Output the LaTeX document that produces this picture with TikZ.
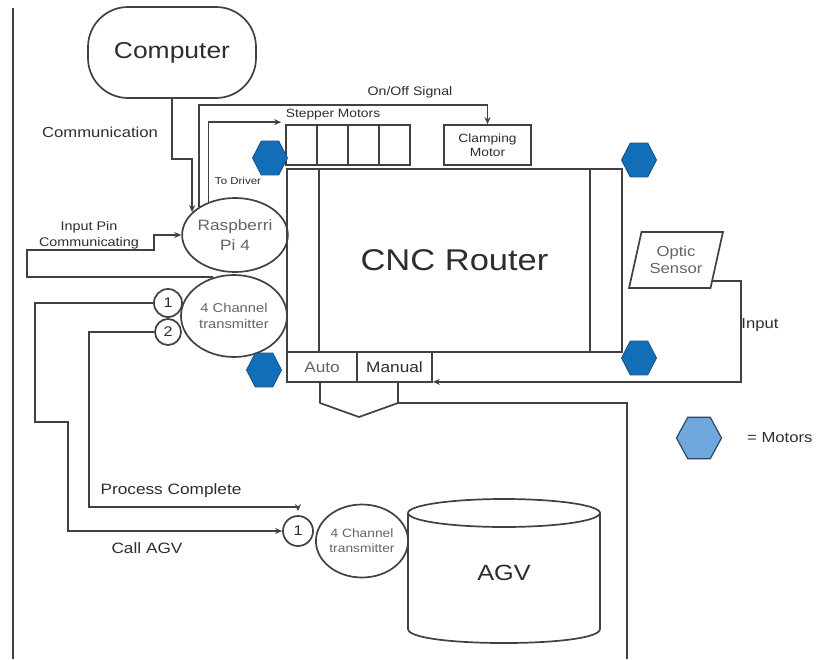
\documentclass[tikz,border=0pt]{standalone}
\usepackage{fontspec}
\setmainfont[FakeStretch=1.15]{Liberation Sans}
\usetikzlibrary{shapes.geometric,arrows.meta,calc}

\definecolor{ln}{RGB}{65,65,65}
\definecolor{tx}{RGB}{45,45,45}
\definecolor{txl}{RGB}{100,100,100}
\definecolor{hexblue}{RGB}{18,110,182}
\definecolor{hexedge}{RGB}{22,80,135}
\definecolor{legblue}{RGB}{112,168,222}
\definecolor{legedge}{RGB}{45,70,100}

\newcommand\fsz[2]{\fontsize{#1}{#2}\selectfont}

\tikzset{
  wire/.style={draw=ln, line width=1.7pt},
  arr/.style={wire, -{Stealth[length=7pt,width=6pt]}},
  box/.style={draw=ln, line width=1.7pt, rectangle, inner sep=0, text=tx, align=center},
  oval/.style={draw=ln, line width=1.7pt, ellipse, inner sep=0, align=center},
  port/.style={draw=ln, line width=1.7pt, circle, inner sep=0, text=tx},
  motor/.style={regular polygon, regular polygon sides=6, minimum size=35, inner sep=0,
                yscale=1.12, fill=hexblue, draw=hexedge, line width=0.8pt},
  lbl/.style={text=tx, inner sep=0, align=center}
}

\begin{document}
\begin{tikzpicture}[x=1pt, y=-1pt]
\useasboundingbox (0,0) rectangle (817,659);

% frame line on the left
\coordinate (ba) at (13,8);
\coordinate (bb) at (13,659);
\draw[wire] (ba) -- (bb);

% computer
\node[box, rounded corners=40pt, minimum width=168, minimum height=91, font=\fsz{23}{27}] (comp) at (172,52.5) {Computer};

% stepper motors and clamping motor
\foreach \i/\x in {1/301.5, 2/332.5, 3/363.5, 4/394.5}
  \node[box, minimum width=31, minimum height=40] (st\i) at (\x,145) {};
\node[box, minimum width=87, minimum height=40, font=\fsz{12}{14}] (clamp) at (487.5,145) {Clamping\\Motor};

% router body
\node[box, minimum width=335, minimum height=183, font=\fsz{30}{34}] (cnc) at (454.5,260.5) {CNC Router};
\draw[wire] ([xshift=33pt]cnc.north west) -- ([xshift=33pt]cnc.south west);
\draw[wire] ([xshift=-33pt]cnc.north east) -- ([xshift=-33pt]cnc.south east);

% mode switches and hopper
\node[box, minimum width=70, minimum height=30, font=\fsz{15}{17}, text=txl] (auto) at (322,367) {Auto};
\node[box, minimum width=75, minimum height=30, font=\fsz{15}{17}] (manual) at (394.5,367) {Manual};
\draw[wire, line join=round] (320,382) -- (320,403) -- (359,417) -- (398,403) -- (398,382);
\coordinate (hop) at (398,403);
\coordinate (tail) at (627,659);
\draw[wire] (hop) -| (tail);

% controller side
\node[oval, minimum width=104, minimum height=74, font=\fsz{15}{20}, text=txl] (pi) at (235,235) {Raspberri\\Pi 4};
\node[oval, minimum width=106, minimum height=82, font=\fsz{12.8}{16}, text=txl] (tx) at (234,316) {4 Channel\\transmitter};
\node[port, minimum size=28, font=\fsz{14}{16}] (c1) at (168,303) {1};
\node[port, minimum size=26, font=\fsz{14}{16}] (c2) at (168,332) {2};

% AGV side
\node[oval, minimum width=91, minimum height=73, font=\fsz{12}{15}, text=txl] (btx) at (362,541) {4 Channel\\transmitter};
\node[port, minimum size=30, font=\fsz{14}{16}] (bc1) at (298,531) {1};
\draw[wire] (504,513) ellipse [x radius=96pt, y radius=14pt];
\draw[wire] (408,513) -- (408,629) .. controls (408,647.7) and (600,647.7) .. (600,629) -- (600,513);
\node[lbl, font=\fsz{22}{26}] (agv) at (504,573) {AGV};

% optic sensor
\node[trapezium, trapezium left angle=71, trapezium right angle=109, trapezium stretches=true,
      draw=ln, line width=1.7pt, minimum width=94, minimum height=56, inner sep=0,
      font=\fsz{14.5}{17}, text=txl, align=center] (opt) at (676,260) {Optic\\Sensor};

% motors
\node[motor] (m1) at (270,158) {};
\node[motor] (m2) at (639,160) {};
\node[motor] (m3) at (264,370) {};
\node[motor] (m4) at (639,358) {};
\node[motor, minimum size=45, yscale=0.95, fill=legblue, draw=legedge, line width=1.2pt] (mleg) at (699,438) {};
\node[lbl, font=\fsz{14.5}{17}, anchor=west] (legtxt) at (747,438) {= Motors};

% labels
\node[lbl, font=\fsz{14.5}{17}] (lcomm) at (100,132) {Communication};
\node[lbl, font=\fsz{12.3}{14}] (lonoff) at (410,92) {On/Off Signal};
\node[lbl, font=\fsz{12}{14}] (lstep) at (333,115) {Stepper Motors};
\node[lbl, font=\fsz{10}{12}] (ldrv) at (238,181) {To Driver};
\node[lbl, font=\fsz{12.5}{16}] (lpin) at (89,235) {Input Pin\\Communicating};
\node[lbl, font=\fsz{14.5}{17}] (linp) at (760,325) {Input};
\node[lbl, font=\fsz{15}{17}] (lproc) at (171,491) {Process Complete};
\node[lbl, font=\fsz{15}{17}] (lcall) at (147,548) {Call AGV};

% connectors
\draw[arr] (comp.south) -- ++(0,60) -| (pi.152);
\draw[arr] (pi.142) |- ([yshift=19pt]clamp.north) -- (clamp.north);
\draw[arr] (pi.129) |- ([xshift=-4pt, yshift=2pt]st1.north west);
\draw[arr] (tx.118) -| (27,250) -| ([xshift=-27pt]pi.west) -- (pi.west);
\draw[arr] (c1.west) -| (35,422) -- (68,422) |- (bc1.west);
\draw[arr] (c2.west) -| (89,507) -| ([yshift=4pt]bc1.north);
\draw[arr] (opt.-30) -- ++(28,0) |- ([yshift=1pt]manual.south east);
\end{tikzpicture}
\end{document}
